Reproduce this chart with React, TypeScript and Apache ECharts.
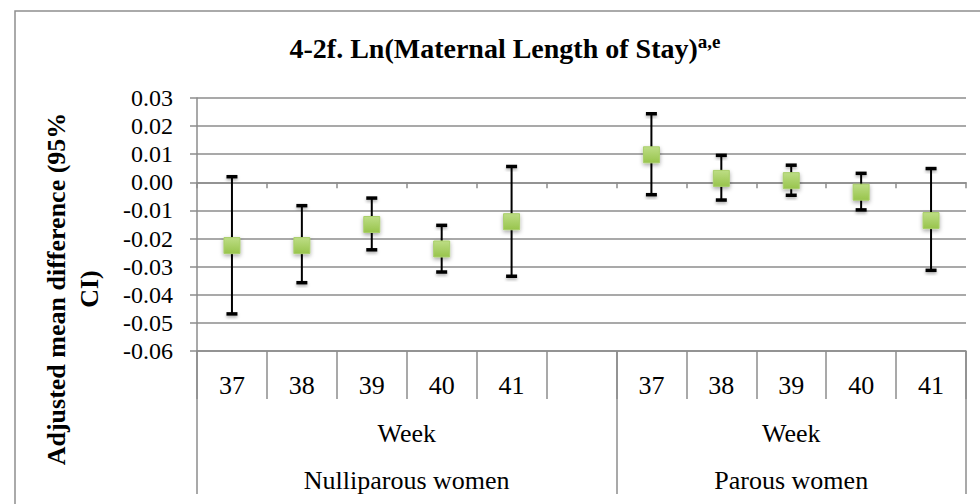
import React, { useEffect, useRef } from "react";
import * as echarts from "echarts";

// Gestational weeks shown in each parity group
const weeks = ["37", "38", "39", "40", "41"];
const groups = ["Nulliparous women", "Parous women"];
const groupSubLabel = "Week";

// Adjusted mean difference and 95% CI, nulliparous women
const nulliparousMean = [-0.0225, -0.0225, -0.015, -0.0237, -0.014];
const nulliparousLow = [-0.0468, -0.0357, -0.024, -0.0319, -0.0334];
const nulliparousHigh = [0.002, -0.0083, -0.0056, -0.0153, 0.0056];

// Adjusted mean difference and 95% CI, parous women
const parousMean = [0.0098, 0.0014, 0.0006, -0.0035, -0.0136];
const parousLow = [-0.0044, -0.0063, -0.0046, -0.0098, -0.0313];
const parousHigh = [0.0244, 0.0096, 0.0061, 0.0032, 0.0049];

// Value axis range
const yMin = -0.06;
const yMax = 0.03;
const yStep = 0.01;

const titleMain = "4-2f. Ln(Maternal Length of Stay)";
const titleSup = "a,e";
const yAxisTitle = "Adjusted mean difference (95%\nCI)";

const FONT = "Liberation Serif, Times New Roman, serif";
const GRID_GRAY = "#8c8c8c";

// One empty slot separates the two groups on the category axis
const categories = [...weeks, "", ...weeks];
const groupSpans = [
  { start: 0, end: weeks.length + 1, name: groups[0] },
  { start: weeks.length + 1, end: categories.length, name: groups[1] },
];

type Point = { x: number; mean: number; low: number; high: number };
const points: Point[] = [
  ...weeks.map((_, i) => ({
    x: i,
    mean: nulliparousMean[i],
    low: nulliparousLow[i],
    high: nulliparousHigh[i],
  })),
  ...weeks.map((_, i) => ({
    x: weeks.length + 1 + i,
    mean: parousMean[i],
    low: parousLow[i],
    high: parousHigh[i],
  })),
];

export default function App() {
  const ref = useRef<HTMLDivElement>(null);

  useEffect(() => {
    if (!ref.current) return;
    const chart = echarts.init(ref.current, undefined, { renderer: "svg" });

    const capStyle = {
      fill: "#000",
      shadowBlur: 3,
      shadowOffsetY: 2,
      shadowColor: "rgba(0,0,0,0.3)",
    };

    const option: any = {
      animation: false,
      backgroundColor: "#ffffff",
      textStyle: { fontFamily: FONT },
      grid: { left: 197, top: 98, width: 769, height: 256 },
      xAxis: [
        {
          // axis crossing at zero with boundary tick marks
          type: "category",
          data: categories,
          position: "bottom",
          boundaryGap: true,
          axisLine: { show: true, onZero: true, lineStyle: { color: GRID_GRAY, width: 1.5 } },
          axisTick: { show: true, interval: 0, length: 6, lineStyle: { color: GRID_GRAY, width: 1.5 } },
          axisLabel: { show: false },
          splitLine: { show: false },
        },
        {
          // week labels row beneath the plot
          type: "category",
          data: categories,
          position: "bottom",
          boundaryGap: true,
          axisLine: { show: true, onZero: false, lineStyle: { color: GRID_GRAY, width: 1.5 } },
          axisTick: { show: true, interval: 0, length: 48, lineStyle: { color: GRID_GRAY, width: 1.5 } },
          axisLabel: {
            show: true,
            interval: 0,
            margin: 34,
            verticalAlign: "middle",
            color: "#000",
            fontFamily: FONT,
            fontSize: 26,
          },
          splitLine: { show: false },
        },
        {
          // group rows: "Week" and parity
          type: "value",
          min: 0,
          max: categories.length,
          position: "bottom",
          axisLine: { show: false, onZero: false },
          axisTick: {
            show: true,
            length: 143,
            customValues: [0, ...groupSpans.map((g) => g.end)],
            lineStyle: { color: GRID_GRAY, width: 1.5 },
          },
          axisLabel: {
            show: true,
            customValues: groupSpans.map((g) => (g.start + g.end) / 2),
            formatter: (v: number) => {
              const g = groupSpans.find((s) => v > s.start && v < s.end);
              return g ? `${groupSubLabel}\n${g.name}` : "";
            },
            margin: 59,
            lineHeight: 47,
            color: "#000",
            fontFamily: FONT,
            fontSize: 26,
          },
          splitLine: { show: false },
        },
      ],
      yAxis: {
        type: "value",
        min: yMin,
        max: yMax,
        interval: yStep,
        axisLine: { show: true, lineStyle: { color: GRID_GRAY, width: 1.5 } },
        axisTick: { show: true, length: 7, lineStyle: { color: GRID_GRAY, width: 1.5 } },
        axisLabel: {
          margin: 24,
          color: "#000",
          fontFamily: FONT,
          fontSize: 24,
          formatter: (v: number) => (Math.round(v * 100) / 100).toFixed(2),
        },
        splitLine: { show: true, lineStyle: { color: GRID_GRAY, width: 1.5 } },
      },
      graphic: [
        {
          type: "rect",
          silent: true,
          shape: { x: 15, y: 11, width: 1000, height: 600 },
          style: { fill: "none", stroke: "#8f8f8f", lineWidth: 1.5 },
        },
        {
          type: "text",
          x: 505,
          y: 48,
          style: {
            text: `{m|${titleMain}}{s|${titleSup}}`,
            align: "center",
            verticalAlign: "middle",
            rich: {
              m: { fontFamily: FONT, fontSize: 28, fontWeight: "bold", fill: "#000", lineHeight: 32 },
              s: { fontFamily: FONT, fontSize: 19, fontWeight: "bold", fill: "#000", verticalAlign: "top", lineHeight: 22 },
            },
          },
        },
        {
          type: "text",
          x: 73,
          y: 289,
          rotation: Math.PI / 2,
          style: {
            text: yAxisTitle,
            align: "center",
            verticalAlign: "middle",
            fontFamily: FONT,
            fontSize: 26,
            fontWeight: "bold",
            lineHeight: 33,
            fill: "#000",
          },
        },
      ],
      series: [
        {
          type: "custom",
          xAxisIndex: 0,
          z: 2,
          data: points.map((p) => [p.x, p.low, p.high]),
          renderItem: (params: any, api: any) => {
            const x = api.value(0);
            const top = api.coord([x, api.value(2)]);
            const bottom = api.coord([x, api.value(1)]);
            const half = 5.5;
            const capH = 3.5;
            return {
              type: "group",
              children: [
                {
                  type: "rect",
                  shape: { x: top[0] - half, y: top[1] - capH / 2, width: half * 2, height: capH },
                  style: capStyle,
                },
                {
                  type: "rect",
                  shape: { x: bottom[0] - half, y: bottom[1] - capH / 2, width: half * 2, height: capH },
                  style: capStyle,
                },
                {
                  type: "line",
                  shape: { x1: top[0], y1: top[1], x2: bottom[0], y2: bottom[1] },
                  style: { stroke: "#000", lineWidth: 2 },
                },
              ],
            };
          },
        },
        {
          type: "scatter",
          xAxisIndex: 0,
          z: 3,
          symbol: "rect",
          symbolSize: 16,
          data: points.map((p) => [p.x, p.mean]),
          itemStyle: {
            color: new echarts.graphic.LinearGradient(0, 0, 0, 1, [
              { offset: 0, color: "#bddd85" },
              { offset: 1, color: "#98c44c" },
            ]),
            borderColor: "#a9cf6a",
            borderWidth: 1,
            opacity: 1,
            shadowBlur: 4,
            shadowOffsetY: 2,
            shadowColor: "rgba(0,0,0,0.35)",
          },
        },
      ],
    };

    chart.setOption(option);
    return () => chart.dispose();
  }, []);

  return (
    <div
      ref={ref}
      style={{ position: "absolute", left: 0, top: 0, width: 980, height: 504, background: "#fff" }}
    />
  );
}
